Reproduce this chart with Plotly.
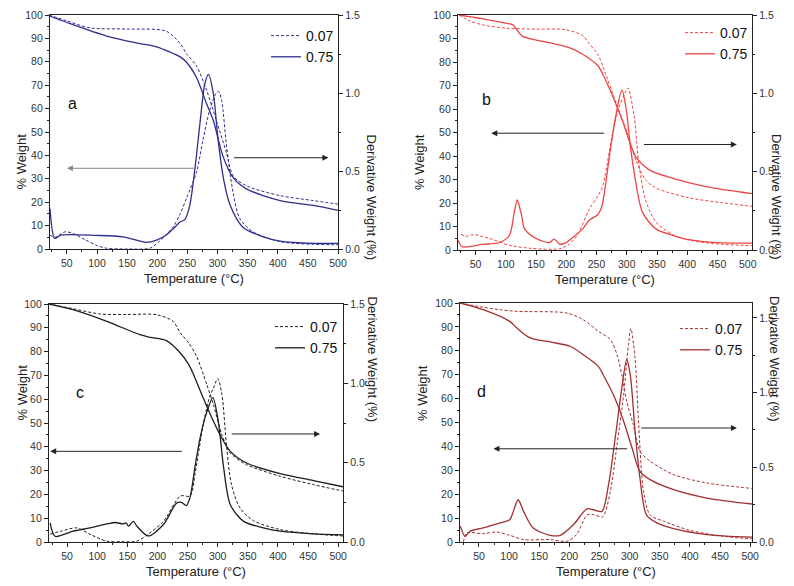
import plotly.graph_objects as go
from plotly.subplots import make_subplots

# ---------------- panel a (blue) ----------------
a_w07_T = [20, 50, 88, 150, 215, 238, 249, 265, 282, 298, 315, 326, 348, 404, 459, 500]
a_w07 = [100, 97.5, 94.5, 94.0, 93.1, 87.8, 83.3, 78.3, 67.8, 55, 41, 31.2, 27, 22.8, 20.7, 19.2]
a_w75_T = [22, 50, 116, 171, 199, 238, 249, 265, 282, 293, 309, 326, 348, 404, 459, 500]
a_w75 = [99.5, 96.8, 91, 87.8, 86.4, 82.1, 79.7, 73.4, 62, 55, 39.7, 30.5, 25.7, 20.7, 18.6, 16.5]
a_d07_T = [22, 30, 47, 60, 80, 100, 116, 150, 188, 200, 226, 238, 249, 265, 276, 287, 298, 302, 307,
           315, 326, 337, 359, 404, 459, 500]
a_d07 = [0.089, 0.075, 0.11, 0.10, 0.06, 0.022, 0.005, 0.0, 0.005, 0.037, 0.14, 0.225, 0.33, 0.49, 0.70,
         0.89, 1.0, 1.01, 0.95, 0.66, 0.36, 0.195, 0.11, 0.047, 0.03, 0.027]
a_d75_T = [22, 30, 40, 100, 143, 170, 182, 199, 215, 226, 238, 246, 254, 263, 271, 279, 285, 293, 301,
           310, 321, 342, 376, 404, 459, 500]
a_d75 = [0.26, 0.068, 0.089, 0.087, 0.078, 0.052, 0.042, 0.057, 0.09, 0.128, 0.173, 0.19, 0.28, 0.53,
         0.81, 1.06, 1.12, 1.0, 0.70, 0.45, 0.28, 0.14, 0.078, 0.051, 0.036, 0.036]

# ---------------- panel b (red) ----------------
b_w07_T = [23, 40, 62, 100, 150, 199, 227, 238, 252, 265, 282, 298, 315, 331, 348, 403, 458, 507]
b_w07 = [100, 97.5, 95.8, 94.4, 94, 93.75, 91.25, 87.8, 83.3, 75, 62.8, 52, 38.2, 29.9, 26.4, 22.2, 20.1, 18.6]
b_w75_T = [23, 60, 100, 112, 120, 128, 172, 205, 227, 252, 260, 276, 293, 304, 315, 338, 376, 431, 507]
b_w75 = [100, 98.5, 96.5, 95.8, 93, 90.9, 88.2, 86.1, 83.3, 78.5, 75, 65.9, 54.9, 46.5, 39.6, 34, 30.5, 27, 24]
b_d07_T = [26, 34, 46, 73, 106, 144, 189, 205, 218, 238, 252, 260, 276, 287, 298, 302, 312, 320, 331,
           348, 376, 403, 458, 507]
b_d07 = [0.10, 0.087, 0.098, 0.074, 0.03, 0.01, 0.008, 0.038, 0.094, 0.26, 0.345, 0.405, 0.735, 0.91,
         1.01, 1.035, 0.86, 0.55, 0.32, 0.18, 0.098, 0.063, 0.036, 0.028]
b_d75_T = [21, 28, 62, 90, 106, 114, 119, 123, 126, 131, 150, 172, 180, 189, 197, 227, 238, 252, 258,
           263, 271, 282, 292, 299, 306, 315, 326, 348, 376, 403, 458, 507]
b_d75 = [0.063, 0.021, 0.036, 0.048, 0.094, 0.24, 0.32, 0.27, 0.225, 0.135, 0.074, 0.048, 0.069, 0.038,
         0.042, 0.135, 0.19, 0.225, 0.27, 0.365, 0.59, 0.86, 1.02, 0.9, 0.66, 0.43, 0.24, 0.135, 0.094,
         0.066, 0.045, 0.044]

# ---------------- panel c (black) ----------------
c_w07_T = [20, 60, 105, 150, 199, 226, 238, 252, 265, 282, 293, 307, 321, 348, 404, 459, 508]
c_w07 = [100, 98, 95.8, 95.6, 95.5, 92.7, 87.8, 83.6, 78, 66.1, 57.7, 45, 37.4, 32.5, 27.6, 24.1, 21.4]
c_w75_T = [20, 60, 116, 171, 188, 215, 238, 252, 260, 276, 293, 304, 321, 348, 404, 459, 508]
c_w75 = [100, 97.6, 92.7, 87.1, 86, 84.6, 79.4, 74.5, 70.3, 60.5, 50.7, 45, 38.1, 33.2, 28.7, 25.8, 23.2]
c_d07_T = [22, 40, 66, 90, 116, 140, 166, 182, 210, 238, 254, 263, 276, 287, 293, 300, 307, 315, 323,
           337, 359, 404, 459, 508]
c_d07 = [0.05, 0.068, 0.089, 0.045, 0.005, 0.002, 0.005, 0.042, 0.13, 0.29, 0.29, 0.445, 0.74, 0.92,
         0.97, 1.03, 0.93, 0.59, 0.36, 0.215, 0.135, 0.078, 0.051, 0.038]
c_d75_T = [22, 30, 60, 88, 116, 130, 143, 148, 152, 160, 166, 182, 188, 210, 232, 240, 248, 254, 263,
           271, 282, 292, 301, 310, 321, 343, 376, 404, 459, 508]
c_d75 = [0.12, 0.036, 0.068, 0.089, 0.114, 0.123, 0.114, 0.12, 0.10, 0.13, 0.099, 0.042, 0.04, 0.11,
         0.246, 0.25, 0.23, 0.28, 0.49, 0.66, 0.82, 0.91, 0.76, 0.465, 0.235, 0.13, 0.089, 0.068, 0.051, 0.045]

# ---------------- panel d (dark red) ----------------
d_w07_T = [19, 50, 85, 113, 196, 223, 248, 268, 279, 287, 295, 306, 317, 334, 373, 428, 503]
d_w07 = [100, 98.5, 97.2, 96.5, 95.8, 93, 88.2, 84.7, 78.4, 70, 58.9, 49.1, 38, 33.8, 28.2, 24.7, 22.4]
d_w75_T = [19, 57, 101, 113, 135, 168, 201, 223, 248, 256, 273, 290, 304, 317, 334, 373, 428, 503]
d_w75 = [100, 97.2, 92.3, 89.5, 85.4, 83.7, 81.9, 78.4, 73.5, 70, 61.6, 50.5, 39.3, 29.6, 26.1, 21.9, 18.4, 15.9]
d_d07_T = [24, 30, 57, 79, 101, 124, 168, 196, 212, 229, 240, 255, 268, 279, 290, 298, 302, 309, 315,
           323, 334, 356, 400, 456, 503]
d_d07 = [0.0, 0.06, 0.056, 0.067, 0.045, 0.016, 0.016, 0.005, 0.05, 0.18, 0.184, 0.168, 0.34, 0.65,
         0.986, 1.32, 1.43, 1.23, 0.78, 0.34, 0.18, 0.14, 0.078, 0.038, 0.021]
d_d75_T = [19, 27, 35, 57, 85, 101, 107, 115, 124, 140, 168, 185, 207, 229, 240, 254, 265, 276, 287,
           295, 301, 309, 317, 328, 345, 373, 428, 503]
d_d75 = [0.106, 0.038, 0.072, 0.094, 0.128, 0.149, 0.205, 0.283, 0.205, 0.094, 0.045, 0.045, 0.117,
         0.222, 0.216, 0.205, 0.384, 0.696, 1.03, 1.22, 1.12, 0.74, 0.43, 0.18, 0.128, 0.09, 0.05, 0.032]

series_names = ['0.07', '0.75']

FONT = 'Liberation Sans, Arial, sans-serif'

panels = [
    dict(lab='a', col='#2e2e8c', w=(a_w07_T, a_w07, a_w75_T, a_w75), d=(a_d07_T, a_d07, a_d75_T, a_d75),
         xdom=[50, 338], ydom=[15, 249], xr=[22, 500], y2r=[0, 1.5], lab_xy=(60, 62),
         larrow=((50, 34.5), (265, 34.5), '#888888'), rarrow=((484, 39), (325, 39)),
         leg=(266, 20), ytl=(12, 132), ytr=(371, 132)),
    dict(lab='b', col='#ee4444', w=(b_w07_T, b_w07, b_w75_T, b_w75), d=(b_d07_T, b_d07, b_d75_T, b_d75),
         xdom=[458, 752], ydom=[15, 250], xr=[21, 507], y2r=[0, 1.5], lab_xy=(68, 64),
         larrow=((76, 49.7), (265, 49.7), '#222222'), rarrow=((482, 44.9), (326, 44.9)),
         leg=(680, 17), ytl=(420, 132), ytr=(786, 132)),
    dict(lab='c', col='#1e1e1e', w=(c_w07_T, c_w07, c_w75_T, c_w75), d=(c_d07_T, c_d07, c_d75_T, c_d75),
         xdom=[49, 343], ydom=[304, 542], xr=[20, 508], y2r=[0, 1.5], lab_xy=(72, 63),
         larrow=((22, 38.1), (243, 38.1), '#222222'), rarrow=((470, 45.4), (321, 45.4)),
         leg=(270, 311), ytl=(12, 423), ytr=(372, 423)),
    dict(lab='d', col='#a33030', w=(d_w07_T, d_w07, d_w75_T, d_w75), d=(d_d07_T, d_d07, d_d75_T, d_d75),
         xdom=[460, 752], ydom=[303, 542], xr=[18.5, 503], y2r=[0, 1.6], lab_xy=(54, 62.8),
         larrow=((74, 39), (298, 39), '#222222'), rarrow=((478, 47.7), (317, 47.7)),
         leg=(675, 313), ytl=(422, 423), ytr=(784, 423)),
]

# the page puts the figure 8px in from the top-left corner, so the layout
# is worked out in window pixels and shifted by that offset
OFF = 8
W, H = 794 - OFF, 586 - OFF


def px(v):
    return (v - OFF) / W


def py(v):
    return 1 - (v - OFF) / H


fig = make_subplots(rows=2, cols=2,
                    specs=[[{"secondary_y": True}, {"secondary_y": True}],
                           [{"secondary_y": True}, {"secondary_y": True}]])

annotations = []
for i, p in enumerate(panels):
    r, c = i // 2 + 1, i % 2 + 1
    legname = 'legend' if i == 0 else 'legend%d' % (i + 1)
    wT07, w07, wT75, w75 = p['w']
    dT07, d07, dT75, d75 = p['d']
    dash = '3px,2px'
    fig.add_trace(go.Scatter(x=wT07, y=w07, mode='lines', name=series_names[0], legend=legname,
                             line=dict(color=p['col'], width=1, dash=dash, shape='spline', smoothing=0.8)),
                  row=r, col=c, secondary_y=False)
    fig.add_trace(go.Scatter(x=wT75, y=w75, mode='lines', name=series_names[1], legend=legname,
                             line=dict(color=p['col'], width=1.3, shape='spline', smoothing=0.8)),
                  row=r, col=c, secondary_y=False)
    fig.add_trace(go.Scatter(x=dT07, y=d07, mode='lines', showlegend=False,
                             line=dict(color=p['col'], width=1, dash=dash, shape='spline', smoothing=0.8)),
                  row=r, col=c, secondary_y=True)
    fig.add_trace(go.Scatter(x=dT75, y=d75, mode='lines', showlegend=False,
                             line=dict(color=p['col'], width=1.3, shape='spline', smoothing=0.8)),
                  row=r, col=c, secondary_y=True)

    xn = '' if i == 0 else str(i + 1)
    yn = '' if i == 0 else str(2 * i + 1)
    xd = [px(p['xdom'][0]), px(p['xdom'][1])]
    yd = [py(p['ydom'][1]), py(p['ydom'][0])]
    axcommon = dict(showline=True, linecolor='#222', linewidth=1.2, showgrid=False, zeroline=False,
                    ticks='outside', ticklen=4, tickcolor='#222', automargin=False,
                    ticklabeloverflow='allow',
                    tickfont=dict(family=FONT, size=10.5, color='#333'))
    fig.update_layout(**{
        'xaxis' + xn: dict(axcommon, domain=xd, range=p['xr'], tick0=0, dtick=50, mirror=True,
                           minor=dict(dtick=25, ticks='outside', ticklen=2, tickcolor='#222'),
                           title=dict(text='Temperature (°C)', standoff=6,
                                      font=dict(family=FONT, size=13, color='#222'))),
        'yaxis' + yn: dict(axcommon, domain=yd, range=[0, 100], dtick=10,
                           minor=dict(dtick=5, ticks='outside', ticklen=2, tickcolor='#222')),
        'yaxis' + str(2 * i + 2): dict(axcommon, range=p['y2r'], dtick=0.5, tickformat='.1f',
                                       ticklen=4,
                                       minor=dict(dtick=0.25, ticks='outside', ticklen=2, tickcolor='#222')),
    })

    xref = 'x' + xn
    yref = 'y' + yn
    annotations.append(dict(x=p['lab_xy'][0], y=p['lab_xy'][1], xref=xref, yref=yref, text=p['lab'],
                            showarrow=False, font=dict(family=FONT, size=16, color='#111')))
    (hx, hy), (tx, ty), acol = p['larrow']
    annotations.append(dict(x=hx, y=hy, ax=tx, ay=ty, xref=xref, yref=yref, axref=xref, ayref=yref,
                            text='', showarrow=True, arrowhead=2, arrowsize=1.2, arrowwidth=1,
                            arrowcolor=acol))
    (hx, hy), (tx, ty) = p['rarrow']
    annotations.append(dict(x=hx, y=hy, ax=tx, ay=ty, xref=xref, yref=yref, axref=xref, ayref=yref,
                            text='', showarrow=True, arrowhead=2, arrowsize=1.2, arrowwidth=1,
                            arrowcolor='#222'))
    annotations.append(dict(x=px(p['ytl'][0]), y=py(p['ytl'][1]), xref='paper', yref='paper',
                            text='% Weight', textangle=-90, showarrow=False,
                            font=dict(family=FONT, size=13, color='#222')))
    annotations.append(dict(x=px(p['ytr'][0]), y=py(p['ytr'][1]), xref='paper', yref='paper',
                            text='Derivative Weight (%)', textangle=90, showarrow=False,
                            font=dict(family=FONT, size=13, color='#222')))
    fig.update_layout(**{legname: dict(x=px(p['leg'][0]), y=py(p['leg'][1]), xanchor='left',
                                       yanchor='top', bgcolor='rgba(0,0,0,0)', borderwidth=0,
                                       tracegroupgap=0,
                                       font=dict(family=FONT, size=14, color='#111'))})

fig.update_layout(width=W, height=H, margin=dict(l=0, r=0, t=0, b=0, autoexpand=False),
                  paper_bgcolor='white', plot_bgcolor='white',
                  annotations=annotations, font=dict(family=FONT))

fig.write_html("out.html")
